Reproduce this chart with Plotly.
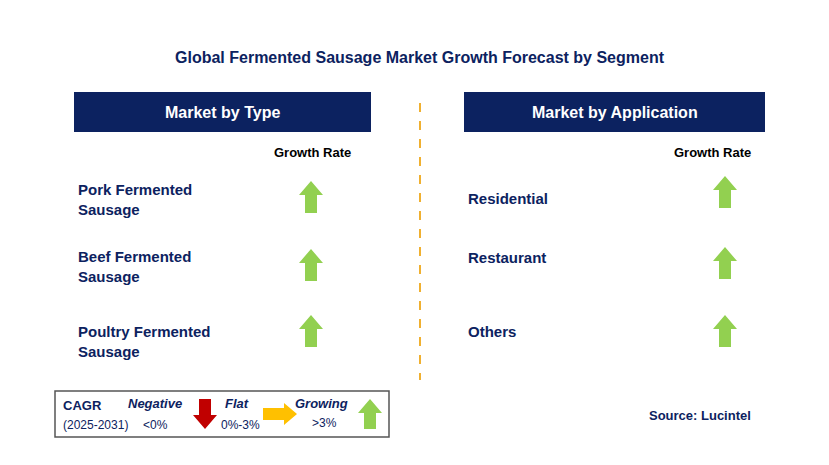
import plotly.graph_objects as go

title = "Global Fermented Sausage Market Growth Forecast by Segment"
type_segments = ["Pork Fermented<br>Sausage", "Beef Fermented<br>Sausage", "Poultry Fermented<br>Sausage"]
type_growth = ["Growing", "Growing", "Growing"]
app_segments = ["Residential", "Restaurant", "Others"]
app_growth = ["Growing", "Growing", "Growing"]
type_rows_y = [199, 266, 341]
app_rows_y = [198, 257, 331]
arrow_rows_type = [197, 265, 331]
arrow_rows_app = [192, 263, 331]

W, H = 829, 465
OFF = 8
NAVY = "#0c2260"
GREEN = "#92d050"
RED = "#c00000"
YEL = "#ffc000"
FONT = "Liberation Sans"

fig = go.Figure()
shapes, ann = [], []

def up(cx, cy, color, h=32, hw=12, bw=6, hh=14):
    t, b = cy - h/2, cy + h/2
    p = f"M{cx-bw},{b} L{cx-bw},{t+hh} L{cx-hw},{t+hh} L{cx},{t} L{cx+hw},{t+hh} L{cx+bw},{t+hh} L{cx+bw},{b} Z"
    shapes.append(dict(type="path", path=p, fillcolor=color, line=dict(width=0), xref="x", yref="y"))

def down(cx, cy, color, h=32, hw=12, bw=6, hh=14):
    t, b = cy - h/2, cy + h/2
    p = f"M{cx-bw},{t} L{cx-bw},{b-hh} L{cx-hw},{b-hh} L{cx},{b} L{cx+hw},{b-hh} L{cx+bw},{b-hh} L{cx+bw},{t} Z"
    shapes.append(dict(type="path", path=p, fillcolor=color, line=dict(width=0), xref="x", yref="y"))

def right(cx, cy, color, w=34, hh=11, bh=6, hw=13):
    l, r = cx - w/2, cx + w/2
    p = f"M{l},{cy-bh} L{r-hw},{cy-bh} L{r-hw},{cy-hh} L{r},{cy} L{r-hw},{cy+hh} L{r-hw},{cy+bh} L{l},{cy+bh} Z"
    shapes.append(dict(type="path", path=p, fillcolor=color, line=dict(width=0), xref="x", yref="y"))

def text(x, y, s, size=14, color="black", bold=True, xanchor="center", italic=False, family=FONT):
    if bold: s = f"<b>{s}</b>"
    if italic: s = f"<i>{s}</i>"
    ann.append(dict(x=x, y=y, text=s, showarrow=False, xref="x", yref="y", xanchor=xanchor,
                    yanchor="middle", align="left", font=dict(size=size, color=color, family=family)))

text(420, 57, title, 16, NAVY)
for x0, x1, lab in [(74, 371, "Market by Type"), (464, 765, "Market by Application")]:
    shapes.append(dict(type="rect", x0=x0, x1=x1, y0=92, y1=132, fillcolor=NAVY, line=dict(width=0), xref="x", yref="y"))
    text((x0+x1)/2, 112, lab, 16, "white")
text(312, 152, "Growth Rate", 13, "black")
text(712, 152, "Growth Rate", 13, "black")
shapes.append(dict(type="line", x0=420, x1=420, y0=103, y1=380, line=dict(color="#f0b030", width=2, dash="dash"), xref="x", yref="y"))

col = {"Growing": GREEN, "Flat": YEL, "Negative": RED}
for s, g, y, ay in zip(type_segments, type_growth, type_rows_y, arrow_rows_type):
    text(76, y, s, 15, NAVY, xanchor="left")
    up(311, ay, col[g])
for s, g, y, ay in zip(app_segments, app_growth, app_rows_y, arrow_rows_app):
    text(466, y, s, 15, NAVY, xanchor="left")
    up(725, ay, col[g])

shapes.append(dict(type="rect", x0=55, x1=389, y0=391, y1=437, line=dict(color="#555", width=1.5), fillcolor="white", xref="x", yref="y"))
text(61, 405, "CAGR", 13, NAVY, xanchor="left")
text(61, 425, "(2025-2031)", 12, NAVY, bold=False, xanchor="left")
text(155, 403, "Negative", 13, NAVY, italic=True)
text(155, 425, "<0%", 12, NAVY, bold=False)
down(205, 414, RED, h=30)
text(237, 403, "Flat", 13, NAVY, italic=True)
text(240, 425, "0%-3%", 12, NAVY, bold=False)
right(280, 414, YEL)
text(321, 403, "Growing", 13, NAVY, italic=True)
text(324, 423, ">3%", 12, NAVY, bold=False)
up(370, 414, GREEN, h=30)

text(700, 415, "Source: Lucintel", 13, NAVY)

fig.update_layout(width=W, height=H, margin=dict(l=0, r=0, t=0, b=0),
                  paper_bgcolor="white", plot_bgcolor="white", shapes=shapes, annotations=ann,
                  xaxis=dict(range=[OFF, W + OFF], visible=False, fixedrange=True),
                  yaxis=dict(range=[H + OFF, OFF], visible=False, fixedrange=True),
                  showlegend=False)
fig.write_html("out.html")
